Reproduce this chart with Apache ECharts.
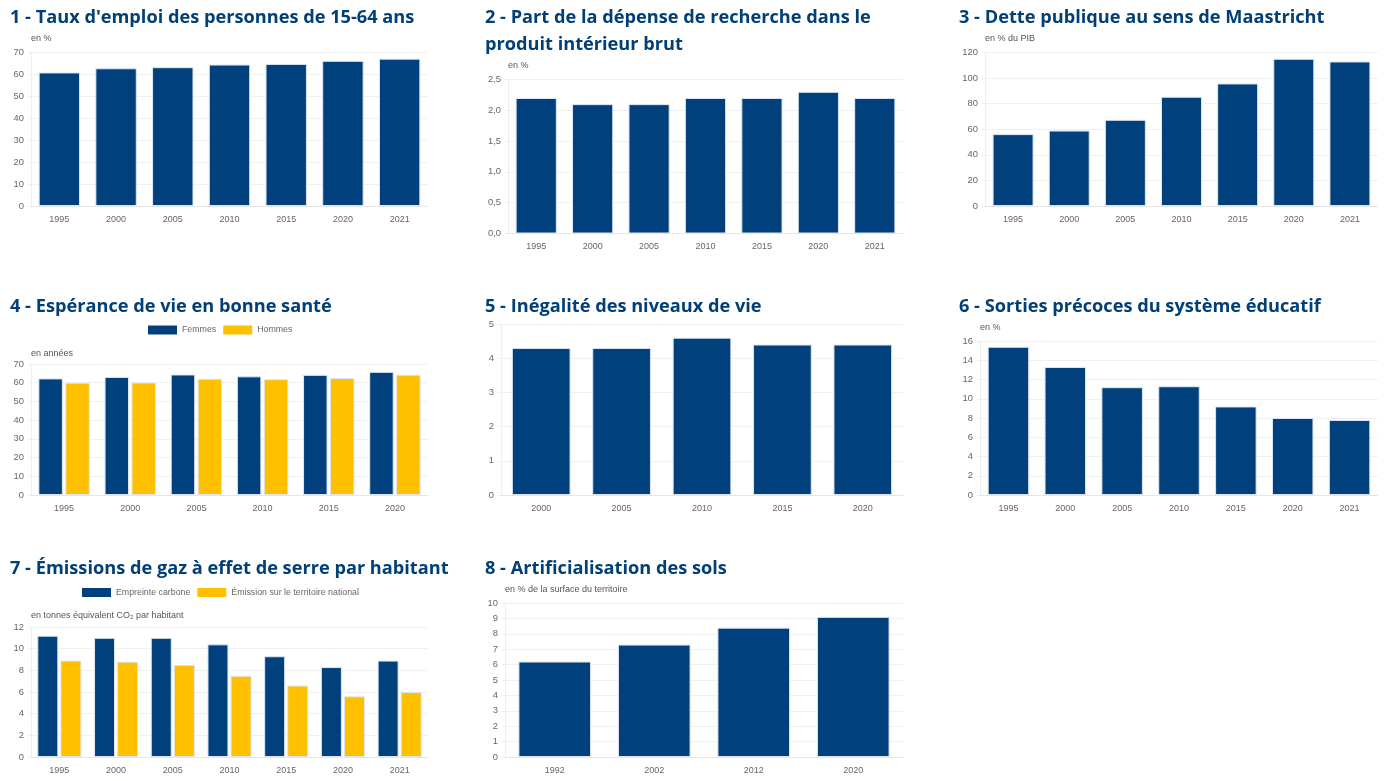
<!DOCTYPE html>
<html>
<head>
<meta charset="utf-8">
<title>Indicateurs</title>
<script src="https://cdn.jsdelivr.net/npm/echarts@6/dist/echarts.min.js"></script>
<style>
html, body { margin: 0; padding: 0; background: #fff; }
#content { width: 1386px; height: 781px; }
</style>
</head>
<body>
<div id="content"></div>
<script>
var years7 = ['1995', '2000', '2005', '2010', '2015', '2020', '2021'];
var years6 = ['1995', '2000', '2005', '2010', '2015', '2020'];
var years5 = ['2000', '2005', '2010', '2015', '2020'];
var years4 = ['1992', '2002', '2012', '2020'];

var emploi = [60.9, 62.8, 63.3, 64.5, 64.8, 66.2, 67.2];
var recherche = [2.2, 2.1, 2.1, 2.2, 2.2, 2.3, 2.2];
var dette = [56.2, 59, 67.4, 85.4, 95.8, 115.1, 113];
var vieFemmes = [62.3, 63.1, 64.4, 63.4, 64.2, 65.8];
var vieHommes = [60.0, 60.1, 62.1, 61.9, 62.5, 64.3];
var inegalite = [4.3, 4.3, 4.6, 4.4, 4.4];
var sorties = [15.4, 13.3, 11.2, 11.3, 9.2, 8.0, 7.8];
var empreinte = [11.2, 11.0, 11.0, 10.4, 9.3, 8.3, 8.9];
var territoire = [8.9, 8.8, 8.5, 7.5, 6.6, 5.6, 6.0];
var artificiel = [6.2, 7.3, 8.4, 9.1];

var BLUE = '#00407c';
var YELLOW = '#ffc000';
var FONT = '"Liberation Sans", Arial, sans-serif';

var panels = [
    {title: "1 - Taux d'emploi des personnes de 15-64 ans", tx: 10, ty: 4, unit: 'en %', gap: 9, cats: years7,
     box: [31, 52.5, 397, 153.5], max: 70, step: 10, series: [['Taux', emploi, BLUE]]},
    {title: '2 - Part de la dépense de recherche dans le\nproduit intérieur brut', tx: 485, ty: 4, unit: 'en %', gap: 9, cats: years7,
     box: [508, 79.5, 395, 154], max: 2.5, step: 0.5, comma: true, series: [['Recherche', recherche, BLUE]]},
    {title: '3 - Dette publique au sens de Maastricht', tx: 959, ty: 4, unit: 'en % du PIB', gap: 9, cats: years7,
     box: [985, 52.5, 393, 153.5], max: 120, step: 20, series: [['Dette', dette, BLUE]]},
    {title: '4 - Espérance de vie en bonne santé', tx: 10, ty: 293, unit: 'en années', gap: 6, cats: years6,
     box: [31, 364, 397, 131], max: 70, step: 10, legendX: 148, legendY: 325.5, barGap: '10%',
     series: [['Femmes', vieFemmes, BLUE], ['Hommes', vieHommes, YELLOW]]},
    {title: '5 - Inégalité des niveaux de vie', tx: 485, ty: 293, unit: '', gap: 9, cats: years5,
     box: [501, 324, 402, 171], max: 5, step: 1, series: [['Inégalité', inegalite, BLUE]]},
    {title: '6 - Sorties précoces du système éducatif', tx: 959, ty: 293, unit: 'en %', gap: 9, cats: years7,
     box: [980, 341, 398, 154], max: 16, step: 2, series: [['Sorties', sorties, BLUE]]},
    {title: '7 - Émissions de gaz à effet de serre par habitant', tx: 10, ty: 555, unit: 'en tonnes équivalent CO₂ par habitant', gap: 7, cats: years7,
     box: [31, 627, 397, 130], max: 12, step: 2, legendX: 82, legendY: 588, barGap: '10%',
     series: [['Empreinte carbone', empreinte, BLUE], ['Émission sur le territoire national', territoire, YELLOW]]},
    {title: '8 - Artificialisation des sols', tx: 485, ty: 555, unit: 'en % de la surface du territoire', gap: 9, cats: years4,
     box: [505, 603, 398, 154], max: 10, step: 1, series: [['Artificialisation', artificiel, BLUE]]}
];

var option = {
    backgroundColor: '#fff',
    animation: false,
    title: [], legend: [], grid: [], xAxis: [], yAxis: [], series: []
};

panels.forEach(function (p, i) {
    option.title.push({
        text: p.title, left: p.tx, top: p.ty, padding: 0,
        textStyle: {fontFamily: '"Open Sans"', fontWeight: 'bold', fontSize: 18.2, color: '#003f77', lineHeight: 27}
    });
    option.grid.push({left: p.box[0], top: p.box[1], width: p.box[2], height: p.box[3], containLabel: false});
    option.xAxis.push({
        type: 'category', gridIndex: i, data: p.cats,
        axisLine: {lineStyle: {color: '#e6e6e6'}},
        axisTick: {show: false},
        axisLabel: {color: '#666', fontFamily: FONT, fontSize: 9, margin: 9, interval: 0}
    });
    option.yAxis.push({
        type: 'value', gridIndex: i, min: 0, max: p.max, interval: p.step,
        name: p.unit, nameLocation: 'end', nameGap: p.gap,
        nameTextStyle: {color: '#555', fontFamily: FONT, fontSize: 9, align: 'left'},
        axisLine: {show: true, lineStyle: {color: '#eeeeee'}},
        axisTick: {show: true, length: 3, lineStyle: {color: '#eeeeee'}},
        splitLine: {lineStyle: {color: '#f0f0f0'}},
        axisLabel: {
            color: '#666', fontFamily: FONT, fontSize: 9.4, margin: 7,
            formatter: p.comma ? function (v) { return v.toFixed(1).replace('.', ','); } : '{value}'
        }
    });
    if (p.legendY) {
        option.legend.push({
            data: p.series.map(function (s) { return s[0]; }),
            left: p.legendX, top: p.legendY, padding: 0, orient: 'horizontal',
            itemWidth: 29, itemHeight: 9, itemGap: 7,
            icon: 'rect',
            itemStyle: {borderWidth: 0},
            textStyle: {color: '#666', fontFamily: FONT, fontSize: 8.8}
        });
    }
    p.series.forEach(function (s) {
        option.series.push({
            type: 'bar', name: s[0], data: s[1],
            xAxisIndex: i, yAxisIndex: i,
            barWidth: p.series.length > 1 ? '37%' : '73%',
            barGap: p.barGap,
            itemStyle: {color: s[2], borderColor: '#dfe5f0', borderWidth: 1}
        });
    });
});

var myChart = echarts.init(document.getElementById('content'));
myChart.setOption(option);
</script>
</body>
</html>
